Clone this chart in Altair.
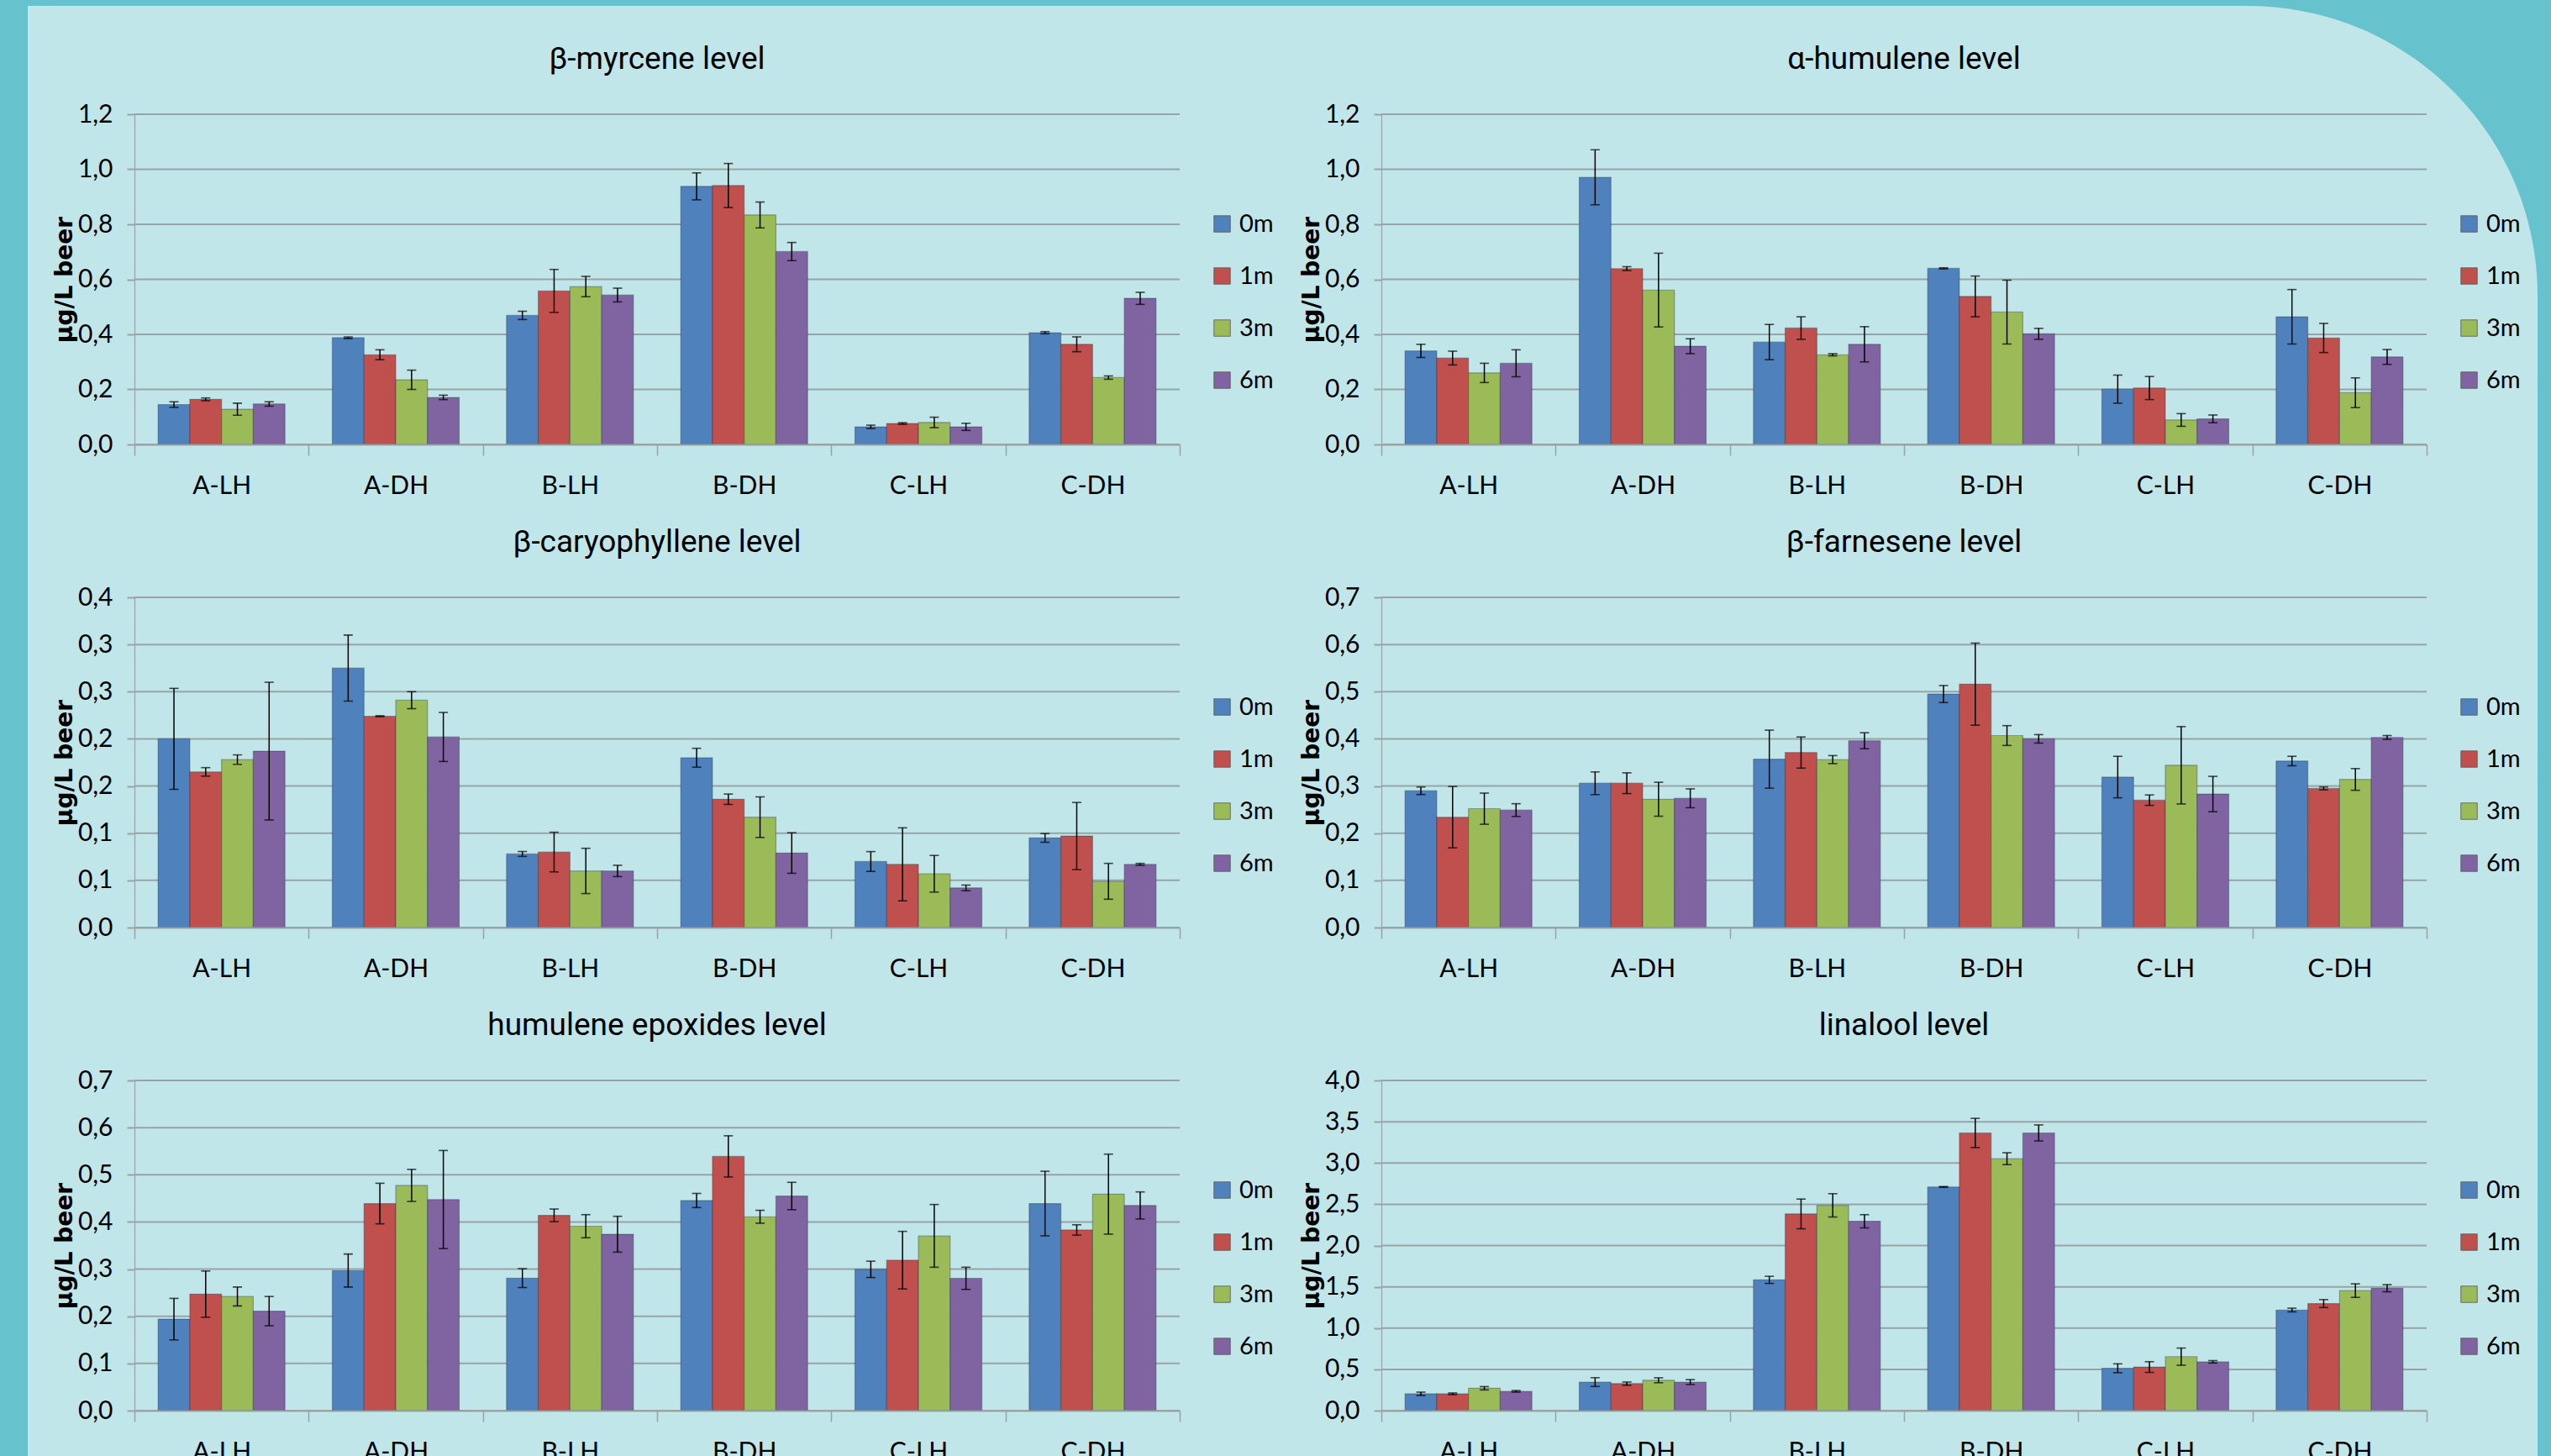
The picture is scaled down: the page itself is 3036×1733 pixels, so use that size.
import altair as alt
import pandas as pd

# ---- categories -------------------------------------------------------------
samples = ["A-LH", "A-DH", "B-LH", "B-DH", "C-LH", "C-DH"]
periods = ["0m", "1m", "3m", "6m"]
period_colors = ["#4F81BD", "#C0504D", "#9BBB59", "#8064A2"]

# ---- β-myrcene (µg/L) -------------------------------------------------------
myrcene_mean = {
    "0m": [0.145, 0.388, 0.469, 0.938, 0.064, 0.406],
    "1m": [0.164, 0.326, 0.558, 0.941, 0.076, 0.364],
    "3m": [0.128, 0.235, 0.574, 0.834, 0.080, 0.243],
    "6m": [0.147, 0.171, 0.543, 0.701, 0.064, 0.531],
}
myrcene_err = {
    "0m": [0.010, 0.003, 0.015, 0.049, 0.006, 0.004],
    "1m": [0.005, 0.018, 0.078, 0.080, 0.003, 0.027],
    "3m": [0.022, 0.035, 0.037, 0.047, 0.019, 0.006],
    "6m": [0.008, 0.008, 0.025, 0.033, 0.013, 0.022],
}

# ---- α-humulene -------------------------------------------------------------
humulene_mean = {
    "0m": [0.340, 0.971, 0.372, 0.640, 0.201, 0.464],
    "1m": [0.314, 0.639, 0.423, 0.538, 0.205, 0.387],
    "3m": [0.260, 0.561, 0.326, 0.481, 0.089, 0.188],
    "6m": [0.295, 0.357, 0.364, 0.402, 0.093, 0.318],
}
humulene_err = {
    "0m": [0.024, 0.100, 0.064, 0.002, 0.051, 0.099],
    "1m": [0.025, 0.007, 0.041, 0.074, 0.042, 0.053],
    "3m": [0.035, 0.134, 0.004, 0.116, 0.023, 0.054],
    "6m": [0.049, 0.027, 0.064, 0.020, 0.014, 0.027],
}

# ---- β-caryophyllene --------------------------------------------------------
caryophyllene_mean = {
    "0m": [0.200, 0.275, 0.078, 0.180, 0.070, 0.095],
    "1m": [0.165, 0.224, 0.080, 0.136, 0.067, 0.097],
    "3m": [0.178, 0.241, 0.060, 0.117, 0.057, 0.049],
    "6m": [0.187, 0.202, 0.060, 0.079, 0.042, 0.067],
}
caryophyllene_err = {
    "0m": [0.0535, 0.035, 0.0026, 0.010, 0.0105, 0.0046],
    "1m": [0.0045, 0.0005, 0.021, 0.0055, 0.0387, 0.0356],
    "3m": [0.005, 0.009, 0.024, 0.0215, 0.0194, 0.019],
    "6m": [0.073, 0.026, 0.006, 0.0215, 0.003, 0.001],
}

# ---- β-farnesene ------------------------------------------------------------
farnesene_mean = {
    "0m": [0.290, 0.306, 0.357, 0.495, 0.319, 0.353],
    "1m": [0.234, 0.306, 0.371, 0.516, 0.270, 0.295],
    "3m": [0.252, 0.272, 0.356, 0.407, 0.344, 0.314],
    "6m": [0.249, 0.274, 0.396, 0.400, 0.283, 0.403],
}
farnesene_err = {
    "0m": [0.008, 0.024, 0.0615, 0.018, 0.044, 0.010],
    "1m": [0.065, 0.022, 0.033, 0.087, 0.011, 0.003],
    "3m": [0.033, 0.036, 0.0085, 0.021, 0.082, 0.023],
    "6m": [0.0135, 0.020, 0.017, 0.009, 0.0375, 0.004],
}

# ---- humulene epoxides ------------------------------------------------------
epoxides_mean = {
    "0m": [0.194, 0.297, 0.281, 0.4455, 0.2995, 0.439],
    "1m": [0.247, 0.439, 0.414, 0.539, 0.319, 0.383],
    "3m": [0.242, 0.4775, 0.391, 0.411, 0.3705, 0.459],
    "6m": [0.211, 0.4475, 0.374, 0.455, 0.2805, 0.435],
}
epoxides_err = {
    "0m": [0.044, 0.035, 0.020, 0.015, 0.0173, 0.0685],
    "1m": [0.049, 0.043, 0.0134, 0.0437, 0.061, 0.011],
    "3m": [0.020, 0.034, 0.0245, 0.0137, 0.0665, 0.0848],
    "6m": [0.031, 0.104, 0.038, 0.029, 0.0235, 0.0287],
}

# ---- linalool ---------------------------------------------------------------
linalool_mean = {
    "0m": [0.204, 0.346, 1.584, 2.710, 0.513, 1.219],
    "1m": [0.204, 0.327, 2.383, 3.364, 0.528, 1.297],
    "3m": [0.271, 0.368, 2.487, 3.052, 0.654, 1.454],
    "6m": [0.234, 0.346, 2.294, 3.364, 0.591, 1.483],
}
linalool_err = {
    "0m": [0.020, 0.054, 0.043, 0.005, 0.054, 0.022],
    "1m": [0.010, 0.020, 0.180, 0.177, 0.065, 0.048],
    "3m": [0.020, 0.030, 0.141, 0.072, 0.104, 0.082],
    "6m": [0.010, 0.030, 0.080, 0.097, 0.015, 0.043],
}

# ---- y-axis ticks and their printed labels -----------------------------------
ticks_12 = [0.0, 0.2, 0.4, 0.6, 0.8, 1.0, 1.2]
labels_12 = ["0,0", "0,2", "0,4", "0,6", "0,8", "1,0", "1,2"]
ticks_035 = [0.0, 0.05, 0.10, 0.15, 0.20, 0.25, 0.30, 0.35]
labels_035 = ["0,0", "0,1", "0,1", "0,2", "0,2", "0,3", "0,3", "0,4"]
ticks_07 = [0.0, 0.1, 0.2, 0.3, 0.4, 0.5, 0.6, 0.7]
labels_07 = ["0,0", "0,1", "0,2", "0,3", "0,4", "0,5", "0,6", "0,7"]
ticks_40 = [0.0, 0.5, 1.0, 1.5, 2.0, 2.5, 3.0, 3.5, 4.0]
labels_40 = ["0,0", "0,5", "1,0", "1,5", "2,0", "2,5", "3,0", "3,5", "4,0"]

panels_spec = [
    ("β-myrcene level", myrcene_mean, myrcene_err, ticks_12, labels_12),
    ("α-humulene level", humulene_mean, humulene_err, ticks_12, labels_12),
    ("β-caryophyllene level", caryophyllene_mean, caryophyllene_err, ticks_035, labels_035),
    ("β-farnesene level", farnesene_mean, farnesene_err, ticks_07, labels_07),
    ("humulene epoxides level", epoxides_mean, epoxides_err, ticks_07, labels_07),
    ("linalool level", linalool_mean, linalool_err, ticks_40, labels_40),
]

TEAL = "#66C2CD"
PANE = "#C1E6E9"
GRID = "#98A3A6"
LABEL_FONT = "Lato"
TITLE_FONT = "Roboto"

W, H = 1244, 393


def make_panel(title, means, errs, ticks, labels):
    rows = []
    for p in periods:
        for i, s in enumerate(samples):
            m, e = means[p][i], errs[p][i]
            rows.append({"sample": s, "period": p, "value": m,
                         "lo": m - e, "hi": m + e})
    df = pd.DataFrame(rows)

    step = ticks[1] - ticks[0]
    label_list = ",".join(f"'{t}'" for t in labels)
    y_axis = alt.Axis(
        values=ticks,
        labelExpr=f"[{label_list}][round(datum.value / {step})]",
        title="µg/L beer", grid=False, zindex=1,
    )
    y_scale = alt.Scale(domain=[ticks[0], ticks[-1]], nice=False)

    x = alt.X("sample:N", sort=samples,
              scale=alt.Scale(paddingInner=0, paddingOuter=0),
              axis=alt.Axis(title=None, tickBand="extent", labelAngle=0, zindex=1))
    xo = alt.XOffset("period:N", sort=periods,
                     scale=alt.Scale(paddingInner=0, paddingOuter=0.746))

    # horizontal gridlines at the tick values, kept underneath the bars
    grid = alt.Chart(pd.DataFrame({"tick": ticks})).mark_rule(
        color=GRID, strokeWidth=2
    ).encode(y=alt.Y("tick:Q", scale=y_scale, axis=y_axis))

    base = alt.Chart(df)
    bars = base.mark_bar(stroke="#1b2a3a", strokeOpacity=0.35, strokeWidth=1.2).encode(
        x=x, xOffset=xo,
        y=alt.Y("value:Q", scale=y_scale, axis=y_axis),
        color=alt.Color(
            "period:N", sort=periods,
            scale=alt.Scale(domain=periods, range=period_colors),
            legend=alt.Legend(
                title=None, orient="none", legendX=1280, legendY=116,
                symbolType="square", symbolSize=380,
                symbolStrokeColor="#555555", symbolStrokeWidth=0.8,
                labelFont=LABEL_FONT, labelFontSize=29, labelColor="black",
                labelOffset=6, rowPadding=32,
            ),
        ),
    )
    whiskers = base.mark_rule(color="black", strokeWidth=1.5).encode(
        x=x, xOffset=xo,
        y=alt.Y("lo:Q", scale=y_scale, axis=y_axis), y2="hi:Q",
    )
    caps_lo = base.mark_tick(color="black", size=11, thickness=1.6).encode(
        x=x, xOffset=xo, y=alt.Y("lo:Q", scale=y_scale, axis=y_axis))
    caps_hi = base.mark_tick(color="black", size=11, thickness=1.6).encode(
        x=x, xOffset=xo, y=alt.Y("hi:Q", scale=y_scale, axis=y_axis))

    return alt.layer(grid, bars, whiskers, caps_lo, caps_hi).properties(
        width=W, height=H,
        title=alt.TitleParams(
            text=title, font=TITLE_FONT, fontSize=37, fontWeight="normal",
            color="black", anchor="middle", frame="group", offset=31,
        ),
    ).resolve_scale(y="shared")


panels = [make_panel(*spec) for spec in panels_spec]

grid_of_panels = alt.concat(
    *panels, columns=2, spacing={"row": 182, "column": 240}, bounds="flush"
).resolve_scale(
    x="independent", y="independent", color="independent", xOffset="independent"
).resolve_legend(color="independent")

# page frame: teal surround and a light pane with a rounded top-right corner
one = alt.Chart(pd.DataFrame({"k": [0]}))
outer = one.mark_rect(color=TEAL).encode(
    x=alt.value(-160), x2=alt.value(2876), y=alt.value(0), y2=alt.value(1733))
pane = one.mark_rect(color=PANE, cornerRadiusTopRight=345).encode(
    x=alt.value(-127), x2=alt.value(2860), y=alt.value(7), y2=alt.value(1733))
frame = alt.layer(outer, pane).properties(width=1, height=1)

chart = alt.vconcat(frame, grid_of_panels, spacing=135, bounds="flush").resolve_scale(
    x="independent", y="independent", color="independent"
).properties(
    padding=0,
).configure(
    background=TEAL,
).configure_view(
    strokeWidth=0,
).configure_axis(
    labelFont=LABEL_FONT, labelFontSize=30, labelColor="black",
    domainColor=GRID, tickColor=GRID,
    titleFont="DejaVu Sans", titleColor="black",
).configure_axisX(
    domainWidth=2, tickWidth=1.5, tickSize=13, labelPadding=21,
).configure_axisY(
    domainWidth=1.2, tickWidth=2, tickSize=9, labelPadding=17,
    titleFontSize=28, titleFontWeight="bold", titlePadding=1,
)

chart.save("out.html", embed_options={"renderer": "svg", "actions": False})
